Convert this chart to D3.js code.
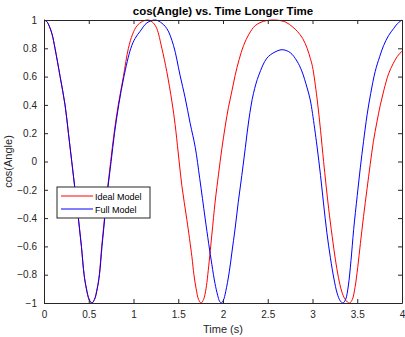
<!DOCTYPE html>
<html>
<head>
<meta charset="utf-8">
<title>cos(Angle) vs. Time Longer Time</title>
<script src="https://cdn.jsdelivr.net/npm/d3@7"></script>
<style>
	body { margin: 0; background: #fff; }
	text { font-family: "Liberation Sans", Arial, sans-serif; }
</style>
</head>
<body>
<div id="chart"></div>
<script>
	// values
	var timeIdeal = [0, 0.03, 0.06, 0.09, 0.123, 0.18, 0.235, 0.273, 0.31, 0.347, 0.384, 0.418, 0.448,
		0.473, 0.503, 0.533, 0.563, 0.593, 0.618, 0.645, 0.676, 0.708, 0.745, 0.783, 0.83, 0.887,
		0.943, 0.99, 1.04, 1.10, 1.167, 1.22, 1.26, 1.317, 1.372, 1.43, 1.465, 1.50, 1.54, 1.596,
		1.652, 1.675, 1.70, 1.727, 1.755, 1.783, 1.81, 1.83, 1.875, 1.913, 1.95, 1.987, 2.025, 2.06,
		2.10, 2.136, 2.18, 2.23, 2.29, 2.36, 2.45, 2.58, 2.70, 2.78, 2.83, 2.89, 2.94, 2.975, 3.00,
		3.05, 3.09, 3.124, 3.18, 3.22, 3.255, 3.29, 3.325, 3.36, 3.39, 3.415, 3.445, 3.475, 3.505,
		3.535, 3.57, 3.61, 3.645, 3.68, 3.72, 3.758, 3.80, 3.85, 3.90, 3.945, 4.00];
	var cosIdeal = [1, 0.99, 0.955, 0.90, 0.80, 0.60, 0.40, 0.20, 0, -0.20, -0.40, -0.60, -0.80,
		-0.90, -0.975, -1, -0.975, -0.90, -0.80, -0.60, -0.40, -0.20, 0, 0.20, 0.40, 0.60,
		0.80, 0.90, 0.96, 0.99, 1, 0.98, 0.94, 0.80, 0.635, 0.42, 0.26, 0.06, -0.17, -0.41,
		-0.67, -0.80, -0.90, -0.975, -1, -0.975, -0.90, -0.80, -0.52, -0.28, -0.09, 0.09, 0.25, 0.38,
		0.50, 0.61, 0.72, 0.82, 0.90, 0.96, 0.99, 1, 0.985, 0.95, 0.92, 0.87, 0.80, 0.73, 0.67,
		0.45, 0.22, 0, -0.33, -0.53, -0.69, -0.82, -0.915, -0.97, -0.993, -1, -0.975, -0.89, -0.75,
		-0.58, -0.39, -0.19, -0.02, 0.14, 0.28, 0.40, 0.51, 0.62, 0.69, 0.74, 0.78];

	var timeFull = [0, 0.03, 0.06, 0.09, 0.123, 0.18, 0.235, 0.273, 0.31, 0.347, 0.384, 0.418, 0.448,
		0.475, 0.505, 0.535, 0.565, 0.595, 0.62, 0.648, 0.679, 0.711, 0.75, 0.788, 0.835, 0.893,
		0.97, 1.018, 1.074, 1.15, 1.24, 1.30, 1.372, 1.447, 1.52, 1.577, 1.633, 1.69, 1.74, 1.80,
		1.84, 1.876, 1.91, 1.94, 1.96, 1.98, 2.005, 2.03, 2.07, 2.10, 2.136, 2.17, 2.21, 2.25, 2.29,
		2.34, 2.40, 2.49, 2.57, 2.66, 2.75, 2.826, 2.88, 2.94, 2.975, 3.00, 3.05, 3.09, 3.124, 3.16,
		3.20, 3.24, 3.275, 3.31, 3.34, 3.37, 3.40, 3.43, 3.46, 3.50, 3.535, 3.57, 3.61, 3.65, 3.70,
		3.75, 3.795, 3.85, 3.907, 3.95, 4.00];
	var cosFull = [1, 0.99, 0.955, 0.90, 0.80, 0.60, 0.40, 0.20, 0, -0.20, -0.40, -0.60, -0.80,
		-0.90, -0.975, -1, -0.975, -0.90, -0.80, -0.60, -0.40, -0.20, 0, 0.20, 0.40, 0.60,
		0.80, 0.87, 0.92, 0.98, 1, 0.985, 0.94, 0.82, 0.61, 0.45, 0.27, 0.10, -0.12, -0.40,
		-0.58, -0.73, -0.86, -0.945, -0.985, -1, -0.98, -0.92, -0.78, -0.64, -0.47, -0.29, -0.10, 0.10, 0.30,
		0.48, 0.61, 0.73, 0.77, 0.79, 0.77, 0.71, 0.64, 0.52, 0.435, 0.34, 0.11, -0.10, -0.30, -0.50,
		-0.68, -0.83, -0.93, -0.985, -1, -0.975, -0.88, -0.70, -0.48, -0.24, -0.04, 0.14, 0.33, 0.48, 0.635,
		0.74, 0.82, 0.89, 0.94, 0.975, 1];

	var xTicks = [0, 0.5, 1, 1.5, 2, 2.5, 3, 3.5, 4];
	var yTicks = [-1, -0.8, -0.6, -0.4, -0.2, 0, 0.2, 0.4, 0.6, 0.8, 1];
	var seriesNames = ["Ideal Model", "Full Model"];
	var seriesColors = ["#ff0000", "#0000ff"];

	var width = 405, height = 337;
	var plotLeft = 44, plotRight = 402, plotTop = 20, plotBottom = 303;
	var axisColor = "#262626";

	var svg = d3.select("#chart").append("svg")
		.attr("width", width)
		.attr("height", height);

	var x = d3.scaleLinear().domain([0, 4]).range([plotLeft, plotRight]);
	var y = d3.scaleLinear().domain([-1, 1]).range([plotBottom, plotTop]);

	// lines
	var line = d3.line()
		.x(function(d) { return x(d[0]); })
		.y(function(d) { return y(d[1]); })
		.curve(d3.curveCatmullRom.alpha(0.5));

	var series = [
		d3.zip(timeIdeal, cosIdeal),
		d3.zip(timeFull, cosFull)
	];

	svg.append("defs").append("clipPath").attr("id", "clip")
		.append("rect")
		.attr("x", plotLeft).attr("y", plotTop - 1)
		.attr("width", plotRight - plotLeft).attr("height", plotBottom - plotTop + 2);

	svg.append("g").attr("clip-path", "url(#clip)")
		.selectAll("path")
		.data(series)
		.enter()
		.append("path")
		.attr("d", line)
		.attr("fill", "none")
		.attr("stroke", function(d, i) { return seriesColors[i]; })
		.attr("stroke-width", 1);

	// axes, box with mirrored ticks
	function styleAxis(g) {
		g.select(".domain").attr("stroke", axisColor);
		g.selectAll(".tick line").attr("stroke", axisColor);
		g.selectAll(".tick text").attr("fill", axisColor)
			.attr("font-size", "10px")
			.attr("font-family", "Liberation Sans, Arial, sans-serif");
	}

	svg.append("g")
		.attr("transform", "translate(0," + plotBottom + ")")
		.call(d3.axisBottom(x).tickValues(xTicks).tickFormat(d3.format("")).tickSizeInner(-4).tickSizeOuter(0).tickPadding(8))
		.call(styleAxis);

	svg.append("g")
		.attr("transform", "translate(0," + plotTop + ")")
		.call(d3.axisTop(x).tickValues(xTicks).tickFormat("").tickSizeInner(-4).tickSizeOuter(0))
		.call(styleAxis);

	svg.append("g")
		.attr("transform", "translate(" + plotLeft + ",0)")
		.call(d3.axisLeft(y).tickValues(yTicks).tickFormat(d3.format("")).tickSizeInner(-4).tickSizeOuter(0).tickPadding(7))
		.call(styleAxis);

	svg.append("g")
		.attr("transform", "translate(" + plotRight + ",0)")
		.call(d3.axisRight(y).tickValues(yTicks).tickFormat("").tickSizeInner(-4).tickSizeOuter(0))
		.call(styleAxis);

	// title and labels
	svg.append("text")
		.attr("x", (plotLeft + plotRight) / 2)
		.attr("y", 15)
		.attr("text-anchor", "middle")
		.attr("font-size", "11.5px")
		.attr("font-weight", "bold")
		.attr("fill", "#000")
		.text("cos(Angle) vs. Time Longer Time");

	svg.append("text")
		.attr("x", (plotLeft + plotRight) / 2)
		.attr("y", 333)
		.attr("text-anchor", "middle")
		.attr("font-size", "11px")
		.attr("fill", axisColor)
		.text("Time (s)");

	svg.append("text")
		.attr("transform", "translate(12," + ((plotTop + plotBottom) / 2) + ") rotate(-90)")
		.attr("text-anchor", "middle")
		.attr("font-size", "11px")
		.attr("fill", axisColor)
		.text("cos(Angle)");

	// legend
	var legend = svg.append("g").attr("transform", "translate(57,187)");
	legend.append("rect")
		.attr("width", 93).attr("height", 31)
		.attr("fill", "#fff")
		.attr("stroke", axisColor)
		.attr("stroke-width", 1);

	var items = legend.selectAll(".item")
		.data(seriesNames)
		.enter()
		.append("g")
		.attr("transform", function(d, i) { return "translate(0," + (9 + i * 13) + ")"; });

	items.append("line")
		.attr("x1", 4).attr("x2", 36)
		.attr("stroke", function(d, i) { return seriesColors[i]; })
		.attr("stroke-width", 1);

	items.append("text")
		.attr("x", 38)
		.attr("y", 3.5)
		.attr("font-size", "9px")
		.attr("fill", "#000")
		.text(function(d) { return d; });
</script>
</body>
</html>
